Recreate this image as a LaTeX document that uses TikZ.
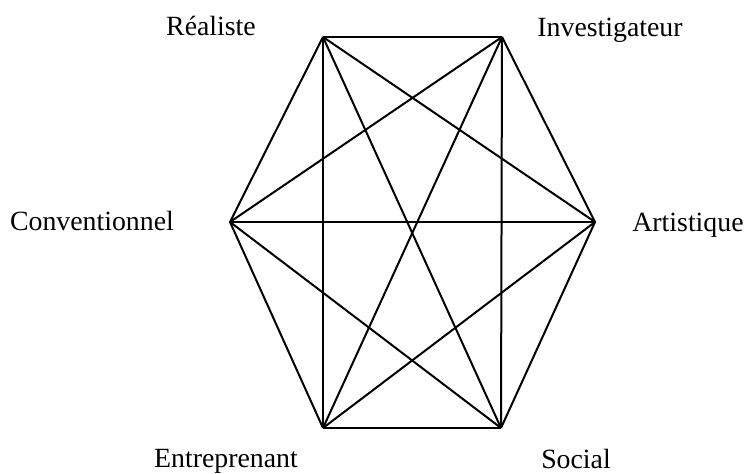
\documentclass[tikz,border=0pt]{standalone}
\usepackage{fontspec}
\setmainfont{Liberation Serif}
\begin{document}
\begin{tikzpicture}[x=0.5pt,y=-0.5pt,
        type/.style={font=\fontsize{13.9}{16}\selectfont,inner sep=0pt,anchor=base}]
        \useasboundingbox (0,0) rectangle (749,474);

        % Hexagon corners
        \coordinate (R) at (323,37);
        \coordinate (I) at (502,37);
        \coordinate (A) at (595,222);
        \coordinate (S) at (501,428);
        \coordinate (E) at (323,428);
        \coordinate (C) at (230,222);

        % Type labels (placed on their baselines)
        \node[type] (lR) at (211,36) {Réaliste};
        \node[type] (lI) at (610,37) {Investigateur};
        \node[type] (lA) at (688,232) {Artistique};
        \node[type] (lS) at (576,469) {Social};
        \node[type] (lE) at (226,468) {Entreprenant};
        \node[type] (lC) at (92,231) {Conventionnel};

        % Every pair of types is joined
        \foreach \a/\b in {R/I,R/A,R/S,R/E,R/C,I/A,I/S,I/E,I/C,A/S,A/E,A/C,S/E,S/C,E/C}
            \draw[line width=1pt] (\a) -- (\b);
    \end{tikzpicture}
\end{document}
